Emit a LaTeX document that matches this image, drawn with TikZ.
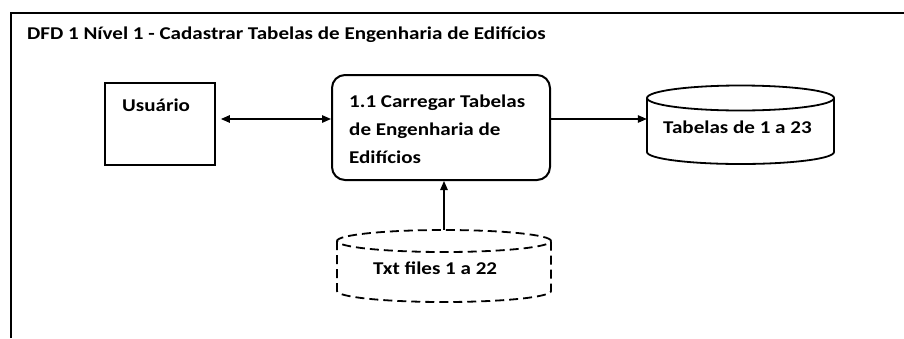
\documentclass[tikz,border=0pt]{standalone}
\usepackage{fontspec}
\setmainfont{Carlito}[FakeStretch=1.17]
\usetikzlibrary{arrows.meta,calc}
\begin{document}
\begin{tikzpicture}[x=1pt,y=-1pt,
  txt/.style={font=\fontsize{18}{28}\selectfont\bfseries, inner sep=0pt, anchor=base west},
  entbox/.style={draw, line width=1.8pt, inner sep=0pt},
  procbox/.style={draw, line width=2pt, rounded corners=13pt, inner sep=0pt},
  ghost/.style={inner sep=0pt},
  flow/.style={line width=1.3pt, -{Triangle[length=9pt,width=7.5pt]}},
  dflow/.style={line width=1.3pt, {Triangle[length=9pt,width=7.5pt]}-{Triangle[length=9pt,width=7.5pt]}},
  cyl/.style={line width=1.8pt},
  dcyl/.style={line width=1.8pt, dash pattern=on 9pt off 5pt}]
\useasboundingbox (0,0) rectangle (904,338);
\fill[white] (0,0) rectangle (904,338);
% frame
\draw[line width=2.5pt] (11,338) -- (11,13) -- (904,13);
\node[txt] (title) at (27,39) {DFD 1 Nível 1 - Cadastrar Tabelas de Engenharia de Edifícios};
% entity
\node[entbox, minimum width=110pt, minimum height=82pt] (u) at (160,124) {};
\node[txt] (ut) at (122,111) {Usuário};
% process
\node[procbox, minimum width=218pt, minimum height=105pt] (p) at (441,127.5) {};
\node[txt] (pt1) at (349,107) {1.1 Carregar Tabelas};
\node[txt] (pt2) at (349,135) {de Engenharia de};
\node[txt] (pt3) at (349,163) {Edifícios};
% data store Tabelas
\draw[cyl] (740.5,98) ellipse [x radius=93.5pt, y radius=12.5pt];
\draw[cyl] (647,98) -- (647,152) arc [start angle=180, end angle=360, x radius=93.5pt, y radius=12pt] -- (834,98);
\node[ghost, minimum width=187pt, minimum height=78pt] (s) at (740.5,125) {};
\node[txt] (st) at (663,133) {Tabelas de 1 a 23};
% data store Txt
\draw[dcyl] (444,241) ellipse [x radius=107pt, y radius=11pt];
\draw[dcyl] (337,241) -- (337,291) arc [start angle=180, end angle=360, x radius=107pt, y radius=11pt] -- (551,241);
\node[ghost, minimum width=214pt, minimum height=72pt] (t) at (444,266) {};
\node[txt] (tt) at (373,274) {Txt files 1 a 22};
% connectors
\coordinate (row) at (0,119);
\draw[dflow] (u.east |- row) ++(5,0) coordinate (ua) (ua) -- (p.west |- row);
\draw[flow] (p.east |- row) -- (s.west |- row);
\draw[flow] (t.north) -- (p.south -| t.north);
\end{tikzpicture}
\end{document}
